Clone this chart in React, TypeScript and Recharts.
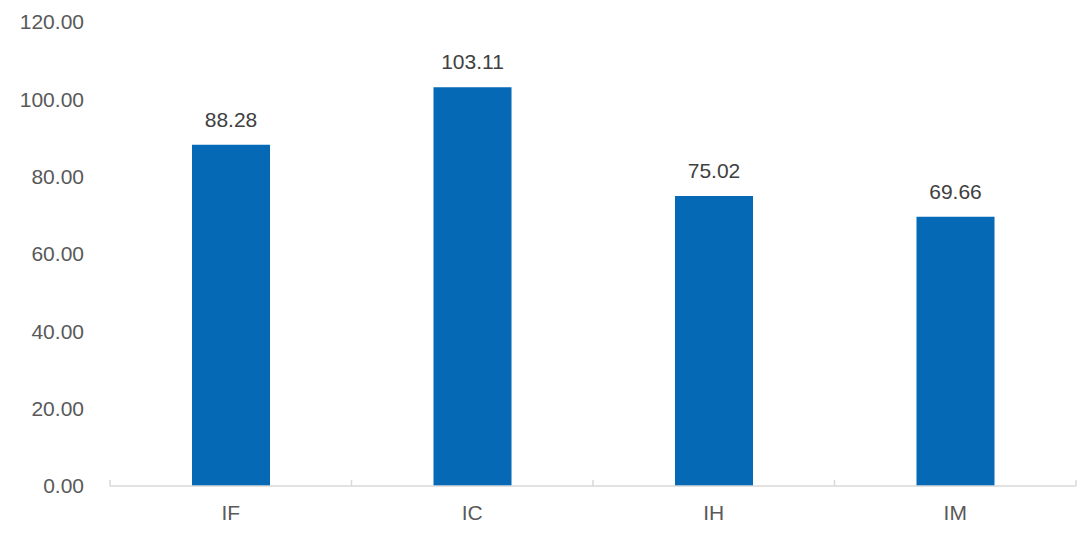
import { BarChart, Bar, XAxis, YAxis, LabelList } from "recharts";

const categories = ["IF", "IC", "IH", "IM"];
const values = [88.28, 103.11, 75.02, 69.66];
const yTicks = [0, 20, 40, 60, 80, 100, 120];

const data = categories.map((name, i) => ({ name, value: values[i] }));

const FONT = "'Liberation Sans', Arial, sans-serif";
const PLOT_WIDTH = 1078 - 102 - 10;
const BAND = PLOT_WIDTH / categories.length;
const LABEL_GAP = 19;

// category label plus tick marks on the band boundaries (pointing up)
function CatTick(props: any) {
  const { x, y, payload, index } = props;
  const left = x - BAND / 2;
  const right = x + BAND / 2;
  const axisY = y - LABEL_GAP;
  return (
    <g>
      <line x1={left} x2={left} y1={axisY} y2={axisY - 6} stroke="#d9d9d9" strokeWidth={1.5} />
      {index === categories.length - 1 && (
        <line x1={right} x2={right} y1={axisY} y2={axisY - 6} stroke="#d9d9d9" strokeWidth={1.5} />
      )}
      <text x={x} y={y} dy="0.71em" textAnchor="middle" fill="#595959" fontSize={21}>
        {payload.value}
      </text>
    </g>
  );
}

export default function App() {
  return (
    <BarChart
      width={1078}
      height={526}
      data={data}
      margin={{ top: 14, right: 10, bottom: 0, left: 0 }}
      style={{ fontFamily: FONT }}
    >
      <XAxis
        dataKey="name"
        height={48}
        axisLine={{ stroke: "#d9d9d9", strokeWidth: 1.5 }}
        tickLine={false}
        tickSize={0}
        tickMargin={LABEL_GAP}
        interval={0}
        tick={<CatTick />}
      />
      <YAxis
        domain={[0, 120]}
        ticks={yTicks}
        width={102}
        axisLine={false}
        tickLine={false}
        tickMargin={20}
        tickFormatter={(v: number) => v.toFixed(2)}
        tick={{ fill: "#595959", fontSize: 21 }}
      />
      <Bar dataKey="value" fill="#0569b5" barSize={78} isAnimationActive={false}>
        <LabelList
          dataKey="value"
          position="top"
          offset={18}
          fill="#404040"
          fontSize={21}
          formatter={(v: number) => v.toFixed(2)}
        />
      </Bar>
    </BarChart>
  );
}
